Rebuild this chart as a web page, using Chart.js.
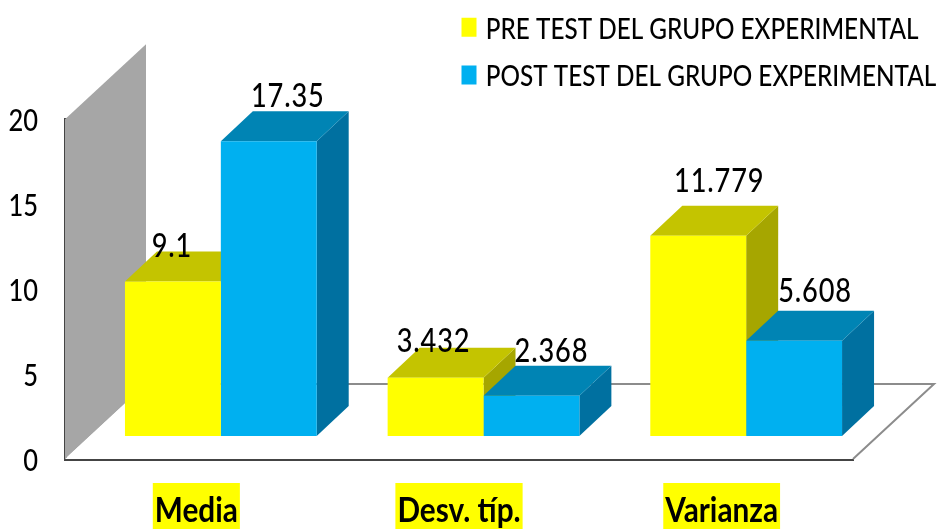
<!DOCTYPE html>
<html><head><meta charset="utf-8">
<style>html,body{margin:0;padding:0;background:#fff;overflow:hidden}#w{width:940px;height:529px}</style>
<script src="https://cdn.jsdelivr.net/npm/chart.js@4"></script></head>
<body><div id="w"><canvas id="c" width="940" height="529"></canvas></div>
<script>
const categories = ["Media", "Desv. típ.", "Varianza"];
const preTest = [9.1, 3.432, 11.779];
const postTest = [17.35, 2.368, 5.608];
const yTicks = [0, 5, 10, 15, 20];
const seriesNames = ["PRE TEST DEL GRUPO EXPERIMENTAL", "POST TEST DEL GRUPO EXPERIMENTAL"];
const labelNudgePre = [[-1,-37],[-2,-38],[21,-56]];
const labelNudgePost = [[19,-47],[20,-46],[21,-51]];
const faceColors = [{front:"#FFFF00",top:"#C4C400",side:"#A6A600"},{front:"#00B0F0",top:"#0084B4",side:"#0070A0"}];
const FONT = 'Lato,sans-serif';
const TEXT_SQUEEZE = 0.85;
const BAR_SHIFT = {x:24.5,y:-23}, BAR_DEPTH = {x:32,y:30}, ROOM = {x:81,y:75};

const canvas = document.getElementById("c");
const c2d = canvas.getContext("2d");
const rawFill = c2d.fillText.bind(c2d), rawMeasure = c2d.measureText.bind(c2d);
c2d.fillText = function(t,x,y,m){ c2d.save(); c2d.translate(x,y+(c2d.textBaseline==="middle"?2:0)); c2d.scale(TEXT_SQUEEZE,1); rawFill(t,0,0); c2d.restore(); };
c2d.measureText = function(t){ const r = rawMeasure(t); return {width:r.width*TEXT_SQUEEZE,actualBoundingBoxAscent:r.actualBoundingBoxAscent,actualBoundingBoxDescent:r.actualBoundingBoxDescent}; };

function drawFaces(chart,i){
  const {ctx}=chart, col=faceColors[i];
  chart.getDatasetMeta(i).data.forEach(b=>{
    const p=b.getProps(["x","y","base","width"],true);
    const L=p.x-p.width/2,R=p.x+p.width/2,dx=BAR_DEPTH.x,dy=BAR_DEPTH.y;
    ctx.fillStyle=col.side;
    ctx.beginPath();ctx.moveTo(R,p.y);ctx.lineTo(R+dx,p.y-dy);ctx.lineTo(R+dx,p.base-dy);ctx.lineTo(R,p.base);ctx.closePath();ctx.fill();
    ctx.fillStyle=col.top;
    ctx.beginPath();ctx.moveTo(L,p.y);ctx.lineTo(L+dx,p.y-dy);ctx.lineTo(R+dx,p.y-dy);ctx.lineTo(R,p.y);ctx.closePath();ctx.fill();
  });
}

const room3d = {
  id:"room3d",
  afterLayout(chart){
    const l = chart.legend; const w = l.right-l.left;
    l.left = 447.5; l.right = 447.5+w;
    l.top -= 20; l.bottom -= 20;
  },
  beforeDatasetsDraw(chart){
    const {ctx,chartArea:a}=chart, y=chart.scales.y;
    const y0=y.getPixelForValue(0), yT=y.getPixelForValue(20);
    ctx.save();
    ctx.fillStyle="#A6A6A6";
    ctx.beginPath();ctx.moveTo(a.left,y0);ctx.lineTo(a.left,yT);ctx.lineTo(a.left+ROOM.x,yT-ROOM.y);ctx.lineTo(a.left+ROOM.x,y0-ROOM.y);ctx.closePath();ctx.fill();
    ctx.fillStyle="#fff";
    ctx.beginPath();ctx.moveTo(a.left,y0);ctx.lineTo(a.left+ROOM.x,y0-ROOM.y);ctx.lineTo(a.right+ROOM.x,y0-ROOM.y);ctx.lineTo(a.right,y0);ctx.closePath();ctx.fill();
    ctx.strokeStyle="#8C8C8C";ctx.lineWidth=2;
    ctx.beginPath();ctx.moveTo(a.left+ROOM.x,y0-ROOM.y);ctx.lineTo(a.right+ROOM.x,y0-ROOM.y);ctx.lineTo(a.right,y0);ctx.stroke();
    ctx.restore();
  },
  beforeDatasetDraw(chart,args){
    const {ctx}=chart;
    ctx.save();ctx.translate(BAR_SHIFT.x,BAR_SHIFT.y);
    // The right-hand series is painted first, so both sets of 3D faces go underneath the fronts here.
    if(args.index===1){ drawFaces(chart,0); drawFaces(chart,1); }
  },
  afterDatasetDraw(chart){chart.ctx.restore();},
  afterDatasetsDraw(chart){
    const {ctx}=chart;
    ctx.save();ctx.font='500 32px '+FONT;ctx.letterSpacing="1px";ctx.fillStyle="#000";ctx.textAlign="center";ctx.textBaseline="middle";
    [labelNudgePre,labelNudgePost].forEach((n,d)=>{
      chart.getDatasetMeta(d).data.forEach((b,i)=>{
        const v=chart.data.datasets[d].data[i];
        ctx.fillText(String(v),b.x+BAR_SHIFT.x+n[i][0],b.y+BAR_SHIFT.y+n[i][1]);
      });
    });
    ctx.restore();
  }
};

new Chart(canvas,{
  type:"bar",
  data:{labels:categories,datasets:[
    {label:seriesNames[0],data:preTest,backgroundColor:faceColors[0].front,clip:false,categoryPercentage:0.73,barPercentage:1},
    {label:seriesNames[1],data:postTest,backgroundColor:faceColors[1].front,clip:false,categoryPercentage:0.73,barPercentage:1}
  ]},
  plugins:[room3d],
  options:{
    responsive:false,animation:false,
    layout:{padding:{left:0,right:87,top:14,bottom:0}},
    plugins:{
      tooltip:{enabled:false},
      legend:{position:"top",align:"start",maxWidth:480,
        labels:{boxWidth:5,boxHeight:9,padding:19,color:"#000",font:{family:FONT,size:28.6,weight:"500",lineHeight:1},
          generateLabels(chart){return chart.data.datasets.map((d,i)=>({text:d.label,fillStyle:d.backgroundColor,strokeStyle:d.backgroundColor,lineWidth:10,datasetIndex:i,fontColor:"#000"}));}
        }}
    },
    scales:{
      x:{grid:{display:false,drawTicks:false},border:{display:true,color:"#444",width:3},
        ticks:{padding:29,color:"#000",font:{family:FONT,size:35,weight:"bold"},showLabelBackdrop:true,backdropColor:"#FFFF00",backdropPadding:{x:2,y:5},maxRotation:0},
        afterFit(s){s.height=70;}},
      y:{min:0,max:20,afterBuildTicks(s){s.ticks=yTicks.map(v=>({value:v}));},
        grid:{display:false,drawTicks:false},border:{display:true,color:"#444",width:3},
        ticks:{padding:27,color:"#000",font:{family:FONT,size:30,weight:"500"}},
        afterFit(s){s.width=65;}}
    }
  }
});
</script></body></html>
